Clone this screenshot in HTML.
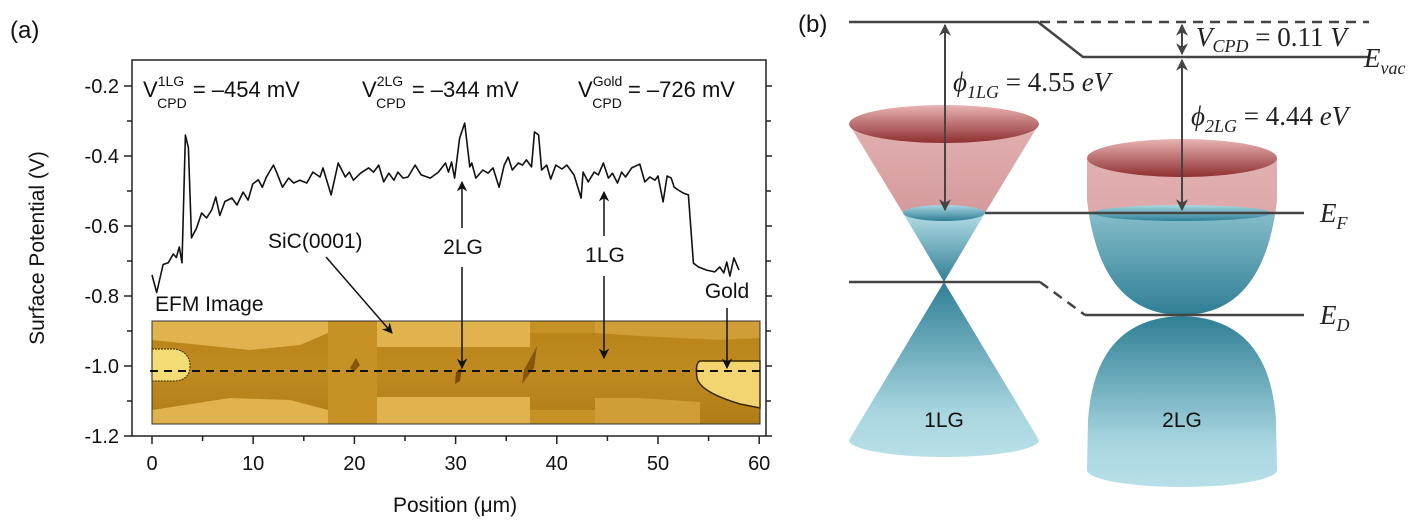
<!DOCTYPE html>
<html><head><meta charset="utf-8">
<style>
html,body{margin:0;padding:0;background:#fff;}
svg{display:block;}
.t{font-family:"Liberation Sans",sans-serif;fill:#111;}
.m{font-family:"Liberation Serif",serif;font-style:italic;fill:#222;}
</style></head>
<body>
<svg id="fig" width="1427" height="528" viewBox="0 0 1427 528" xmlns="http://www.w3.org/2000/svg">
<defs>
  <linearGradient id="redTop" x1="0" y1="0" x2="0" y2="1">
    <stop offset="0" stop-color="#e9b3b3"/><stop offset="1" stop-color="#8e2f30"/>
  </linearGradient>
  <linearGradient id="redBody" x1="0" y1="0" x2="0" y2="1">
    <stop offset="0" stop-color="#e2b0b1"/><stop offset="1" stop-color="#d49a9c"/>
  </linearGradient>
  <linearGradient id="blueDown" x1="0" y1="0" x2="0" y2="1">
    <stop offset="0" stop-color="#b4dde6"/><stop offset="1" stop-color="#2f7f95"/>
  </linearGradient>
  <linearGradient id="blueUp" x1="0" y1="0" x2="0" y2="1">
    <stop offset="0" stop-color="#2f7f95"/><stop offset="0.75" stop-color="#a9d6e0"/><stop offset="1" stop-color="#b7dfe8"/>
  </linearGradient>
  <linearGradient id="blueLid" x1="0" y1="0" x2="0" y2="1">
    <stop offset="0" stop-color="#a9d8e3"/><stop offset="1" stop-color="#2f7f95"/>
  </linearGradient>
  <linearGradient id="efmBase" x1="0" y1="0" x2="0" y2="1">
    <stop offset="0" stop-color="#b8841a"/><stop offset="0.5" stop-color="#bf8a20"/><stop offset="1" stop-color="#b07c16"/>
  </linearGradient>
  <marker id="ah" viewBox="0 0 10 10" refX="9" refY="5" markerWidth="7" markerHeight="7" orient="auto-start-reverse">
    <path d="M0,0 L10,5 L0,10 L3,5 Z" fill="#111"/>
  </marker>
  <marker id="ah2" viewBox="0 0 10 10" refX="9" refY="5" markerWidth="6" markerHeight="6" orient="auto-start-reverse">
    <path d="M0,0 L10,5 L0,10 L3,5 Z" fill="#444"/>
  </marker>
  <clipPath id="aboveEF"><rect x="800" y="0" width="600" height="213"/></clipPath>
  <clipPath id="belowEF"><rect x="800" y="213" width="600" height="110"/></clipPath>
</defs>

<!-- ===== Panel (a) ===== -->
<text class="t" x="10" y="38" font-size="24">(a)</text>

<g>
  <rect x="152" y="321" width="608" height="103" fill="url(#efmBase)"/>
  <polygon points="152,321 328,321 328,333 300,345 250,350 152,340" fill="#e0b34e"/>
  <rect x="328" y="321" width="49" height="103" fill="#c69226"/>
  <rect x="377" y="321" width="153" height="26" fill="#e0b34e"/>
  <rect x="530" y="321" width="65" height="12" fill="#c69226"/>
  <polygon points="595,321 760,321 760,338 720,340 640,336 595,333" fill="#d09e36"/>
  <polygon points="152,424 328,424 328,410 290,400 230,398 152,410" fill="#e0b34e"/>
  <rect x="377" y="397" width="153" height="27" fill="#e0b34e"/>
  <rect x="530" y="410" width="65" height="14" fill="#c69226"/>
  <polygon points="595,424 700,424 700,402 640,398 595,398" fill="#d09e36"/>
  <path d="M152,349 L175,349 Q190,352 190,366 Q190,380 175,381 L152,381 Z" fill="#f4dc74" stroke="#5a3a00" stroke-width="1.2" stroke-dasharray="2 1"/>
  <path d="M700,361 L760,361 L760,408 L740,404 Q700,392 697,378 Q695,363 700,361 Z" fill="#f2d470" stroke="#3a2500" stroke-width="1.5"/>
  <polygon points="456,372 462,368 460,381 455,384" fill="#7a4a08"/>
  <polygon points="524,370 537,346 534,368 522,384" fill="#86560c"/>
  <polygon points="350,368 356,358 360,365 354,372" fill="#86560c"/>
  <rect x="152" y="321" width="608" height="103" fill="none" stroke="#333" stroke-width="1"/>
  <line x1="150" y1="371" x2="760" y2="371" stroke="#111" stroke-width="2" stroke-dasharray="8 6"/>
</g>

<rect x="132" y="60" width="634" height="376" fill="none" stroke="#222" stroke-width="1.5"/>
<g id="axes"></g>
<path id="trace" fill="none" stroke="#111" stroke-width="1.6" stroke-linejoin="round"/>

<text class="t" transform="translate(44,248) rotate(-90)" text-anchor="middle" font-size="21">Surface Potential (V)</text>
<text class="t" x="455" y="512" text-anchor="middle" font-size="21">Position (μm)</text>

<g class="t" font-size="22">
  <text x="143" y="97">V<tspan font-size="14" dy="-11">1LG</tspan><tspan font-size="14" dx="-27" dy="22">CPD</tspan><tspan dy="-11"> = –454 mV</tspan></text>
  <text x="362" y="97">V<tspan font-size="14" dy="-11">2LG</tspan><tspan font-size="14" dx="-27" dy="22">CPD</tspan><tspan dy="-11"> = –344 mV</tspan></text>
  <text x="578" y="97">V<tspan font-size="14" dy="-11">Gold</tspan><tspan font-size="14" dx="-30" dy="22">CPD</tspan><tspan dy="-11"> = –726 mV</tspan></text>
</g>

<g class="t" font-size="21">
  <text x="268" y="248">SiC(0001)</text>
  <line x1="326" y1="257" x2="392" y2="333" stroke="#111" stroke-width="1.5" marker-end="url(#ah)"/>
  <text x="463" y="254" text-anchor="middle">2LG</text>
  <line x1="462" y1="228" x2="462" y2="182" stroke="#111" stroke-width="1.5" marker-end="url(#ah)"/>
  <line x1="462" y1="267" x2="462" y2="368" stroke="#111" stroke-width="1.5" marker-end="url(#ah)"/>
  <text x="605" y="262" text-anchor="middle">1LG</text>
  <line x1="604" y1="236" x2="604" y2="192" stroke="#111" stroke-width="1.5" marker-end="url(#ah)"/>
  <line x1="604" y1="276" x2="604" y2="358" stroke="#111" stroke-width="1.5" marker-end="url(#ah)"/>
  <text x="727" y="298" text-anchor="middle">Gold</text>
  <line x1="727" y1="308" x2="727" y2="368" stroke="#111" stroke-width="1.5" marker-end="url(#ah)"/>
  <text x="155" y="311">EFM Image</text>
</g>

<!-- ===== Panel (b) ===== -->
<text class="t" x="798" y="32" font-size="24">(b)</text>

<g>
  <polygon points="849,124 1039,124 985,213 903,213" fill="url(#redBody)"/>
  <ellipse cx="944" cy="124" rx="95" ry="19" fill="url(#redTop)"/>
  <polygon points="903,213 985,213 944,282" fill="url(#blueDown)"/>
  <ellipse cx="944" cy="213" rx="41" ry="8" fill="url(#blueLid)"/>
  <path d="M944,282 L1039,440 A95,17 0 0 1 849,440 Z" fill="url(#blueUp)"/>
  <text class="t" x="944" y="427" text-anchor="middle" font-size="21" fill="#222">1LG</text>
</g>

<g>
  <path d="M1087,158 L1087,200 Q1100,315 1182,315 Q1264,315 1277,200 L1277,158 Z" fill="url(#redBody)" clip-path="url(#aboveEF)"/>
  <ellipse cx="1182" cy="158" rx="95" ry="19" fill="url(#redTop)"/>
  <path d="M1087,158 L1087,200 Q1100,315 1182,315 Q1264,315 1277,200 L1277,158 Z" fill="url(#blueDown)" clip-path="url(#belowEF)"/>
  <ellipse cx="1182" cy="213" rx="89" ry="8" fill="url(#blueLid)"/>
  <path d="M1182,316 Q1095,318 1088,420 L1087,470 A95,17 0 0 0 1277,470 L1276,420 Q1269,318 1182,316 Z" fill="url(#blueUp)"/>
  <text class="t" x="1182" y="427" text-anchor="middle" font-size="21" fill="#222">2LG</text>
</g>

<g stroke="#444" stroke-width="2.5" fill="none">
  <polyline points="849,22 1038,22 1083,57 1369,57"/>
  <line x1="1040" y1="22" x2="1369" y2="22" stroke-dasharray="10 7"/>
  <line x1="985" y1="213" x2="1304" y2="213"/>
  <polyline points="849,282 1040,282"/>
  <line x1="1040" y1="282" x2="1085" y2="315" stroke-dasharray="10 7"/>
  <line x1="1085" y1="315" x2="1304" y2="315"/>
</g>
<g stroke="#444" stroke-width="2">
  <line x1="945" y1="25" x2="945" y2="210" marker-start="url(#ah2)" marker-end="url(#ah2)"/>
  <line x1="1182" y1="60" x2="1182" y2="210" marker-start="url(#ah2)" marker-end="url(#ah2)"/>
  <line x1="1182" y1="25" x2="1182" y2="54" marker-start="url(#ah2)" marker-end="url(#ah2)"/>
</g>
<g class="m" font-size="27">
  <text x="1196" y="46">V<tspan font-size="18" dy="6">CPD</tspan><tspan dy="-6" font-style="normal"> = 0.11 </tspan>V</text>
  <text x="1364" y="67">E<tspan font-size="18" dy="7">vac</tspan></text>
  <text x="953" y="91">ϕ<tspan font-size="18" dy="7">1LG</tspan><tspan dy="-7" font-style="normal"> = 4.55 </tspan>eV</text>
  <text x="1191" y="125">ϕ<tspan font-size="18" dy="7">2LG</tspan><tspan dy="-7" font-style="normal"> = 4.44 </tspan>eV</text>
  <text x="1320" y="222">E<tspan font-size="18" dy="7">F</tspan></text>
  <text x="1320" y="324">E<tspan font-size="18" dy="7">D</tspan></text>
</g>
</svg>

<script>
const xs = [0,0.46,1.1,1.6,2.1,2.4,2.7,2.96,3.3,3.6,3.9,4.4,4.9,5.4,5.9,6.3,6.7,7.2,7.9,8.4,9.0,9.5,9.95,10.5,10.9,11.3,12.0,12.3,12.9,13.5,14.0,14.6,15.3,15.9,16.6,16.9,17.7,18.4,19.1,19.5,19.9,20.6,21.4,21.9,22.4,22.9,23.4,23.9,24.3,24.8,25.3,26.0,26.6,27.5,28.3,29.0,29.3,29.6,29.9,30.4,30.9,31.4,31.6,32.0,32.7,33.2,33.7,34.3,34.8,35.2,35.6,36.2,36.6,37.0,37.5,37.8,38.2,38.5,39.0,39.4,39.9,40.5,41.0,41.7,42.4,42.6,43.1,43.7,44.1,44.6,45.1,45.5,46.0,46.4,46.8,47.4,48.2,48.7,49.2,49.7,50.0,50.5,50.9,51.3,51.6,52.0,52.5,53.0,53.5,54.0,54.8,55.6,56.1,56.5,56.8,57.1,57.5,58.0];
const vs = [-0.74,-0.79,-0.71,-0.705,-0.68,-0.69,-0.66,-0.705,-0.34,-0.377,-0.634,-0.606,-0.563,-0.577,-0.554,-0.517,-0.57,-0.53,-0.52,-0.54,-0.503,-0.526,-0.48,-0.468,-0.489,-0.46,-0.426,-0.446,-0.489,-0.463,-0.477,-0.469,-0.477,-0.446,-0.46,-0.434,-0.511,-0.42,-0.46,-0.446,-0.469,-0.449,-0.434,-0.446,-0.426,-0.474,-0.449,-0.469,-0.446,-0.463,-0.46,-0.426,-0.454,-0.463,-0.446,-0.42,-0.446,-0.417,-0.463,-0.349,-0.306,-0.431,-0.42,-0.463,-0.44,-0.449,-0.434,-0.489,-0.426,-0.403,-0.44,-0.42,-0.426,-0.411,-0.431,-0.331,-0.34,-0.44,-0.426,-0.466,-0.426,-0.437,-0.426,-0.454,-0.52,-0.446,-0.474,-0.446,-0.454,-0.42,-0.463,-0.449,-0.477,-0.446,-0.46,-0.434,-0.423,-0.474,-0.46,-0.469,-0.457,-0.531,-0.457,-0.463,-0.489,-0.497,-0.506,-0.511,-0.706,-0.717,-0.726,-0.731,-0.717,-0.734,-0.703,-0.743,-0.691,-0.726];
const xTicks = [0,10,20,30,40,50,60];
const xTickLabels = ["0","10","20","30","40","50","60"];
const yTicks = [-0.2,-0.4,-0.6,-0.8,-1.0,-1.2];
const yTickLabels = ["-0.2","-0.4","-0.6","-0.8","-1.0","-1.2"];

function X(x){ return 152 + x*10.12; }
function Y(v){ return 436 - (v+1.2)*350; }

const NS = "http://www.w3.org/2000/svg";
const axes = document.getElementById('axes');
function mk(tag, attrs){ const e=document.createElementNS(NS,tag); for(const k in attrs) e.setAttribute(k,attrs[k]); return e; }

xTicks.forEach((t,i)=>{
  const l = mk('line',{x1:X(t),x2:X(t),y1:436,y2:444,stroke:'#222','stroke-width':1.5});
  
  
  axes.appendChild(l);
  if(i<xTicks.length-1){
    const m = mk('line',{x1:X(t+5),x2:X(t+5),y1:436,y2:441,stroke:'#222','stroke-width':1.5});
    
    
    axes.appendChild(m);
  }
  const tx = mk('text',{x:X(t),y:470,'text-anchor':'middle','font-size':20,class:'t'});
  tx.textContent = xTickLabels[i];
  
  
  axes.appendChild(tx);
});
yTicks.forEach((t,i)=>{
  const l = mk('line',{x1:124,x2:132,y1:Y(t),y2:Y(t),stroke:'#222','stroke-width':1.5});
  
  
  axes.appendChild(l);
  const r = mk('line',{x1:766,x2:772,y1:Y(t),y2:Y(t),stroke:'#222','stroke-width':1.5});
  
  
  axes.appendChild(r);
  if(i<yTicks.length-1){
    const m = mk('line',{x1:127,x2:132,y1:Y(t-0.1),y2:Y(t-0.1),stroke:'#222','stroke-width':1.5});
    
    
    axes.appendChild(m);
    const mr = mk('line',{x1:766,x2:771,y1:Y(t-0.1),y2:Y(t-0.1),stroke:'#222','stroke-width':1.5});
    
    
    axes.appendChild(mr);
  }
  const tx = mk('text',{x:119,y:Y(t)+7,'text-anchor':'end','font-size':20,class:'t'});
  tx.textContent = yTickLabels[i];
  
  
  axes.appendChild(tx);
});

let d = '';
xs.forEach((x,i)=>{ d += (i?'L':'M') + X(x).toFixed(1) + ',' + Y(vs[i]).toFixed(1) + ' '; });
document.getElementById('trace').setAttribute('d', d);
</script>
</body></html>
